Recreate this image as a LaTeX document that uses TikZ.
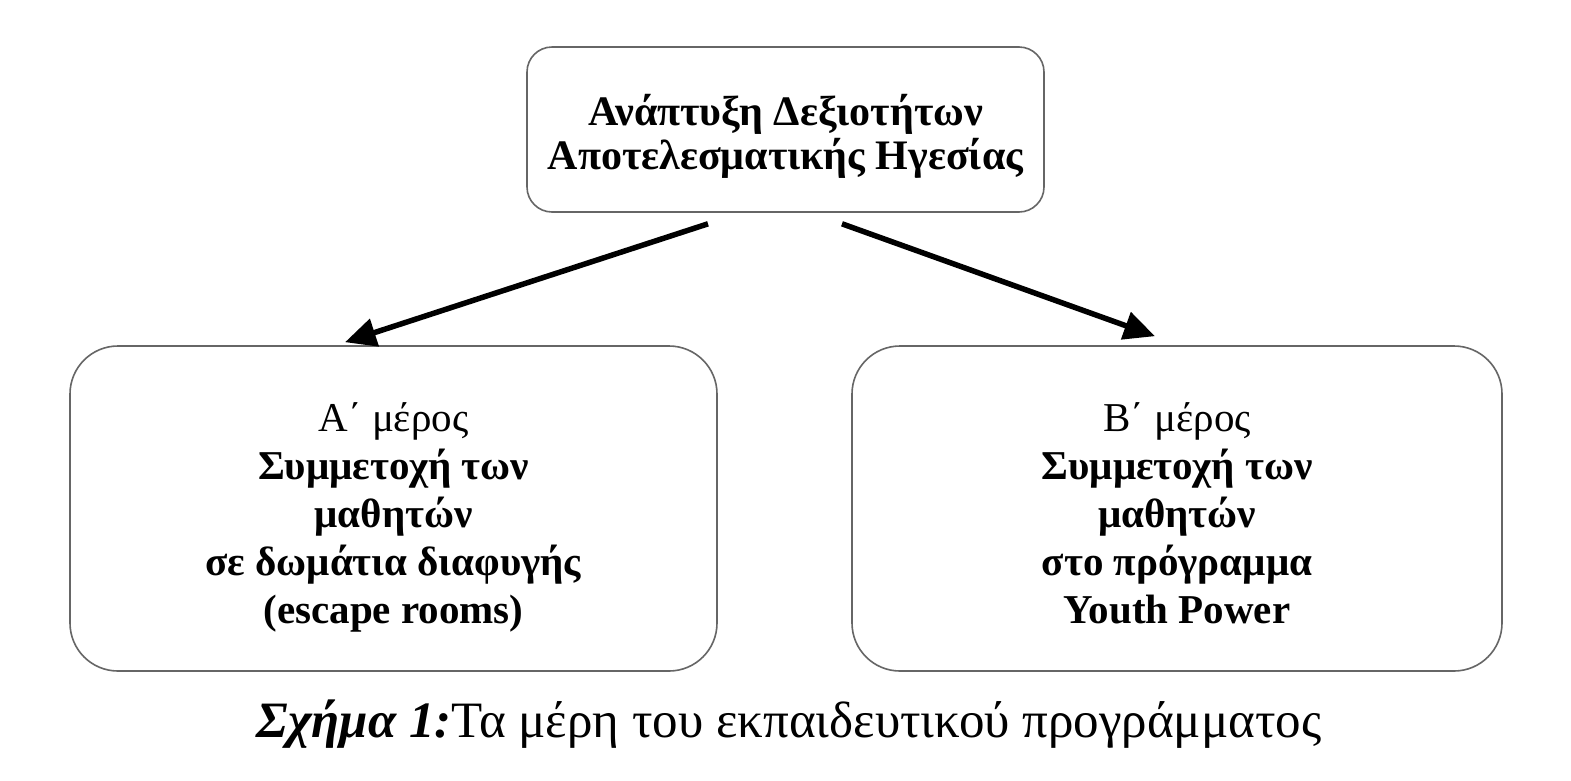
\documentclass[tikz,border=0pt]{standalone}
\usepackage{fontspec}
\setmainfont{Liberation Serif}
\usetikzlibrary{arrows.meta}
\begin{document}
\begin{tikzpicture}[x=1pt,y=-1pt,
  boxstyle/.style={draw=black!60, line width=1.6pt, rounded corners=#1, fill=white, align=center, inner sep=0pt},
  toptext/.style={font=\fontsize{42}{44}\selectfont\bfseries},
  parttext/.style={font=\fontsize{41}{48}\selectfont},
  arr/.style={line width=5.5pt, -{Triangle[length=31pt,width=28pt]}}]
\useasboundingbox[fill=white] (0,0) rectangle (1571,780);
\node[boxstyle=25pt, toptext, minimum width=517pt, minimum height=165pt, text height=79pt, text depth=0pt] (T) at (785.5,129.5)
  {Ανάπτυξη Δεξιοτήτων\\Αποτελεσματικής Ηγεσίας};
\node[boxstyle=48pt, parttext, minimum width=647pt, minimum height=325pt, text height=229pt, text depth=0pt] (A) at (393.5,508.5)
  {Α΄ μέρος\\\textbf{Συμμετοχή των}\\\textbf{μαθητών}\\\textbf{σε δωμάτια διαφυγής}\\\textbf{(escape rooms)}};
\node[boxstyle=48pt, parttext, minimum width=650pt, minimum height=325pt, text height=229pt, text depth=0pt] (B) at (1177,508.5)
  {Β΄ μέρος\\\textbf{Συμμετοχή των}\\\textbf{μαθητών}\\\textbf{στο πρόγραμμα}\\\textbf{Youth Power}};
\draw[arr] ([xshift=-77.5pt,yshift=-11pt]T.south) -- ([xshift=-48.5pt,yshift=3pt]A.north);
\draw[arr] ([xshift=56.5pt,yshift=-11pt]T.south) -- ([xshift=-22pt,yshift=9pt]B.north);
\node[font=\fontsize{51}{60}\selectfont, anchor=base] (cap) at (789,737)
  {\textbf{\textit{Σχήμα 1:}}Τα μέρη του εκπαιδευτικού προγράμματος};
\end{tikzpicture}
\end{document}
